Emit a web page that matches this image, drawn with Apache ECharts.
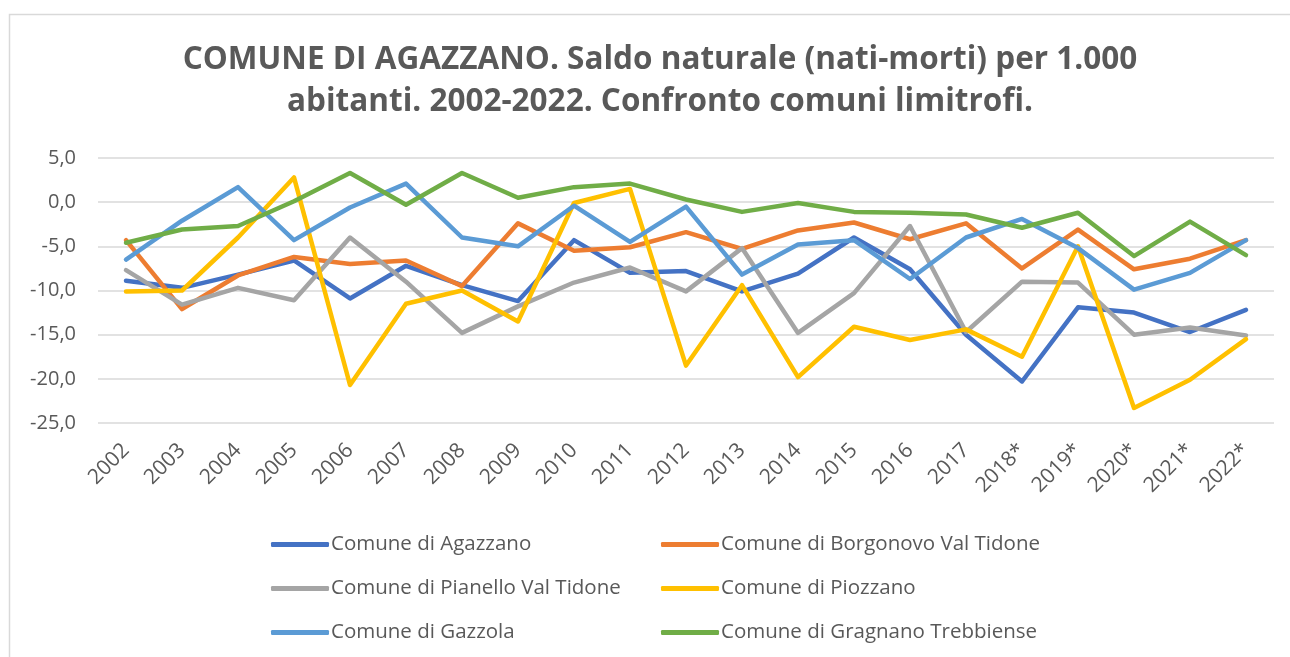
<!DOCTYPE html>
<html>
<head>
<meta charset="utf-8">
<title>Saldo naturale - Agazzano</title>
<script src="https://cdn.jsdelivr.net/npm/echarts@6/dist/echarts.min.js"></script>
<style>
    html, body { margin: 0; padding: 0; background: #fff; }
    #saldo_chart { width: 1290px; height: 657px; }
</style>
</head>
<body>
<div id="saldo_chart"></div>
<script>

// Chart data
// ------------------------------

var years = ['2002', '2003', '2004', '2005', '2006', '2007', '2008', '2009', '2010', '2011',
    '2012', '2013', '2014', '2015', '2016', '2017', '2018*', '2019*', '2020*', '2021*', '2022*'];

var agazzano = [-8.9, -9.7, -8.2, -6.6, -10.9, -7.2, -9.4, -11.2, -4.3, -8.0,
    -7.8, -10.1, -8.1, -4.0, -7.6, -15.0, -20.3, -11.9, -12.5, -14.7, -12.2];
var borgonovo = [-4.3, -12.1, -8.3, -6.2, -7.0, -6.6, -9.5, -2.4, -5.5, -5.1,
    -3.4, -5.3, -3.2, -2.3, -4.2, -2.4, -7.5, -3.1, -7.6, -6.4, -4.3];
var pianello = [-7.7, -11.6, -9.7, -11.1, -4.0, -9.0, -14.8, -11.8, -9.1, -7.4,
    -10.1, -5.2, -14.8, -10.3, -2.7, -14.7, -9.0, -9.1, -15.0, -14.2, -15.1];
var piozzano = [-10.1, -10.0, -4.0, 2.8, -20.7, -11.5, -10.0, -13.5, -0.1, 1.5,
    -18.5, -9.4, -19.8, -14.1, -15.6, -14.4, -17.5, -5.0, -23.3, -20.1, -15.5];
var gazzola = [-6.5, -2.1, 1.7, -4.3, -0.6, 2.1, -4.0, -5.0, -0.4, -4.5,
    -0.5, -8.2, -4.8, -4.3, -8.7, -4.0, -1.9, -5.2, -9.9, -8.0, -4.3];
var gragnano = [-4.6, -3.1, -2.7, 0.1, 3.3, -0.3, 3.3, 0.5, 1.7, 2.1,
    0.3, -1.1, -0.1, -1.1, -1.2, -1.4, -2.9, -1.2, -6.1, -2.2, -6.0];

var names = ['Comune di Agazzano', 'Comune di Borgonovo Val Tidone', 'Comune di Pianello Val Tidone',
    'Comune di Piozzano', 'Comune di Gazzola', 'Comune di Gragnano Trebbiense'];
var values = [agazzano, borgonovo, pianello, piozzano, gazzola, gragnano];
var colors = ['#4472C4', '#ED7D31', '#A5A5A5', '#FFC000', '#5B9BD5', '#70AD47'];


// Chart setup
// ------------------------------

var element = document.getElementById('saldo_chart');
var chart = echarts.init(element);

var font = '"Open Sans", "Noto Sans", sans-serif';

// one legend per item, laid out on a 2 x 3 grid
var legends = names.map(function(name, i) {
    return {
        data: [name],
        left: i % 2 === 0 ? 271 : 661,
        top: 534 + Math.floor(i / 2) * 44,
        icon: 'roundRect',
        itemWidth: 58,
        itemHeight: 5,
        padding: 0,
        textStyle: {
            fontFamily: font,
            fontSize: 20.5,
            color: '#595959',
            padding: [0, 0, 0, -3]
        }
    };
});

var series = names.map(function(name, i) {
    return {
        name: name,
        type: 'line',
        data: values[i],
        symbol: 'none',
        smooth: false,
        lineStyle: {
            width: 4.5,
            color: colors[i],
            cap: 'round',
            join: 'round'
        },
        itemStyle: {
            color: colors[i]
        }
    };
});

chart.setOption({
    color: colors,
    animation: false,

    textStyle: {
        fontFamily: font
    },

    title: {
        text: 'COMUNE DI AGAZZANO. Saldo naturale (nati-morti) per 1.000\nabitanti. 2002-2022. Confronto comuni limitrofi.',
        left: 655,
        top: 34,
        textAlign: 'center',
        textStyle: {
            fontFamily: font,
            fontSize: 31.5,
            fontWeight: 'bold',
            color: '#595959',
            lineHeight: 42
        }
    },

    // outer frame of the chart
    graphic: [{
        type: 'rect',
        shape: { x: 9.5, y: 14.5, width: 1300, height: 700 },
        style: { fill: 'none', stroke: '#d9d9d9', lineWidth: 1.5 },
        silent: true
    }],

    legend: legends,

    grid: {
        left: 98,
        right: 16,
        top: 158,
        height: 265,
        containLabel: false
    },

    xAxis: {
        type: 'category',
        data: years,
        boundaryGap: true,
        axisLine: { show: false },
        axisTick: { show: false },
        axisLabel: {
            rotate: 45,
            interval: 0,
            margin: 24,
            fontFamily: font,
            fontSize: 21,
            color: '#595959'
        },
        splitLine: { show: false }
    },

    yAxis: {
        type: 'value',
        min: -25,
        max: 5,
        interval: 5,
        axisLine: { show: false },
        axisTick: { show: false },
        axisLabel: {
            margin: 22,
            fontFamily: font,
            fontSize: 20,
            color: '#595959',
            formatter: function(v) {
                return v.toFixed(1).replace('.', ',');
            }
        },
        splitLine: {
            lineStyle: { color: '#d9d9d9', width: 1.5 }
        }
    },

    series: series
});

</script>
</body>
</html>
